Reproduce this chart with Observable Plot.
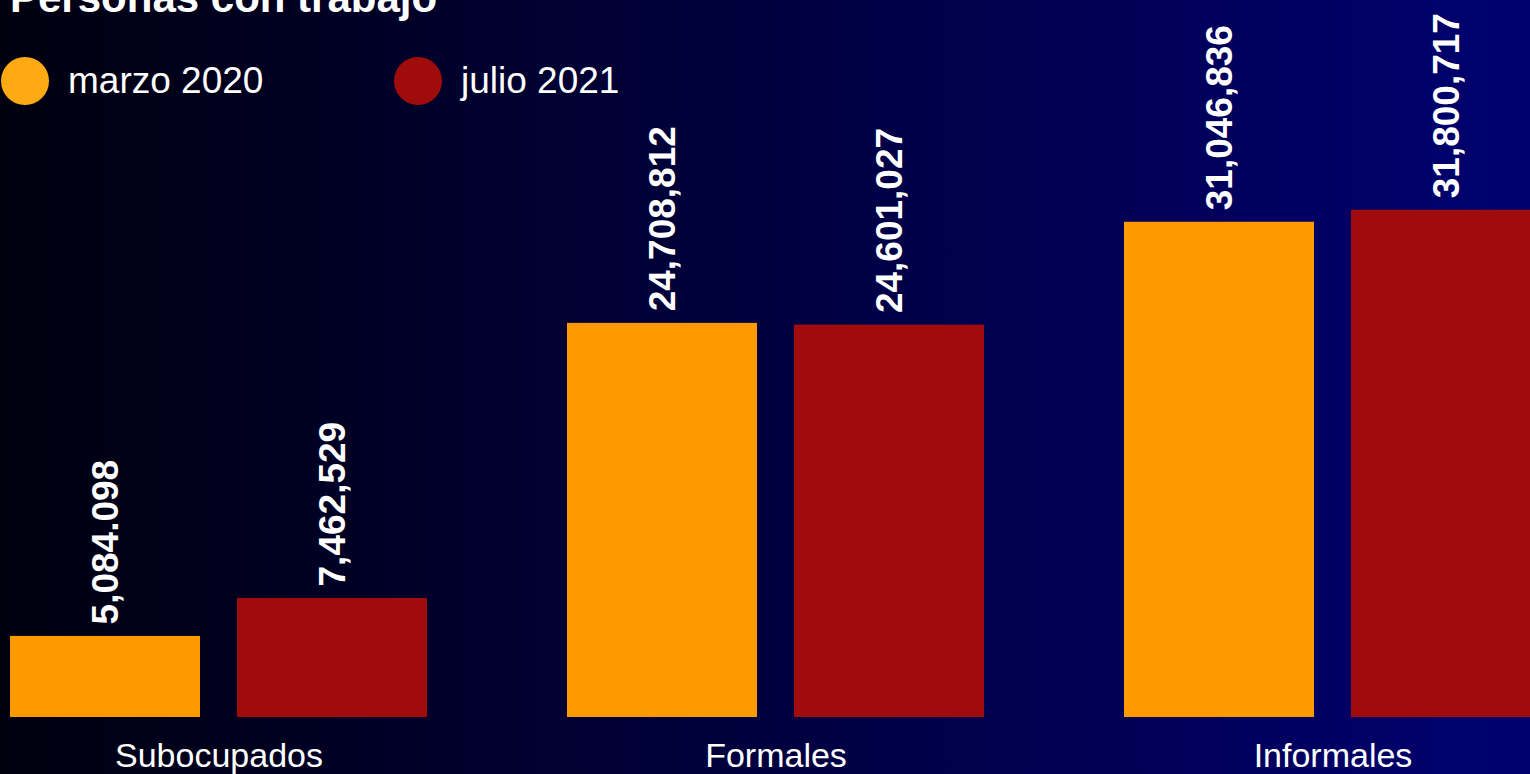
<!DOCTYPE html>
<html>
<head>
<meta charset="utf-8">
<script src="https://cdn.jsdelivr.net/npm/d3@7"></script>
<script src="https://cdn.jsdelivr.net/npm/@observablehq/plot@0.6"></script>
<style>
  html, body { margin: 0; padding: 0; width: 1530px; height: 774px; overflow: hidden; }
  body { background: linear-gradient(to right, #00000f 0%, #00003a 45%, #000070 100%); font-family: "Liberation Sans", Arial, sans-serif; color: #fff; position: relative; }
  #title { position: absolute; left: 10px; top: -23px; font-size: 42px; font-weight: bold; line-height: 1; white-space: nowrap; }
  .leg { position: absolute; top: 57px; height: 48px; display: flex; align-items: center; font-size: 37px; white-space: nowrap; }
  .leg span.sw { display: inline-block; width: 48px; height: 48px; border-radius: 50%; margin-right: 19px; }
  #chart { position: absolute; left: 0; top: 0; width: 1542px; }
</style>
</head>
<body>
<div id="title">Personas con trabajo</div>
<div id="legend"></div>
<div id="chart"></div>
<script>
const categories = ["Subocupados", "Formales", "Informales"];
const series = ["marzo 2020", "julio 2021"];
const marzo2020 = [5084098, 24708812, 31046836];
const julio2021 = [7462529, 24601027, 31800717];
const marzoLabels = ["5,084.098", "24,708,812", "31,046,836"];
const julioLabels = ["7,462,529", "24,601,027", "31,800,717"];
const barColors = ["#ff9900", "#a00c0c"];
const legendColors = ["#ffaa12", "#a00c0c"];

const data = [];
categories.forEach((c, i) => {
  data.push({cat: c, series: series[0], value: marzo2020[i], label: marzoLabels[i]});
  data.push({cat: c, series: series[1], value: julio2021[i], label: julioLabels[i]});
});

// legend
const legend = document.getElementById("legend");
const legLeft = [1, 394];
series.forEach((s, i) => {
  const d = document.createElement("div");
  d.className = "leg";
  d.style.left = legLeft[i] + "px";
  d.innerHTML = `<span class="sw" style="background:${legendColors[i]}"></span><span>${s}</span>`;
  legend.appendChild(d);
});

const chart = Plot.plot({
  width: 1542,
  height: 774,
  marginLeft: 10,
  marginRight: 0,
  marginTop: 0,
  marginBottom: 57,
  style: {background: "transparent", color: "white", fontSize: "34px", fontFamily: "'Liberation Sans', Arial, sans-serif", overflow: "visible", maxWidth: "none"},
  fx: {domain: categories, paddingInner: 0.2513, paddingOuter: 0, axis: "bottom", tickSize: 0, tickPadding: 25, label: null},
  x: {domain: series, paddingInner: 0.163, paddingOuter: 0, axis: null},
  y: {domain: [0, 44950000], axis: null},
  color: {domain: series, range: barColors},
  marks: [
    Plot.barY(data, {fx: "cat", x: "series", y: "value", fill: "series"}),
    Plot.text(data, {fx: "cat", x: "series", y: "value", text: "label", rotate: -90, textAnchor: "start", dy: -12, dx: 1, fill: "white", fontSize: 37, fontWeight: "bold"})
  ]
});
document.getElementById("chart").appendChild(chart);
</script>
</body>
</html>
